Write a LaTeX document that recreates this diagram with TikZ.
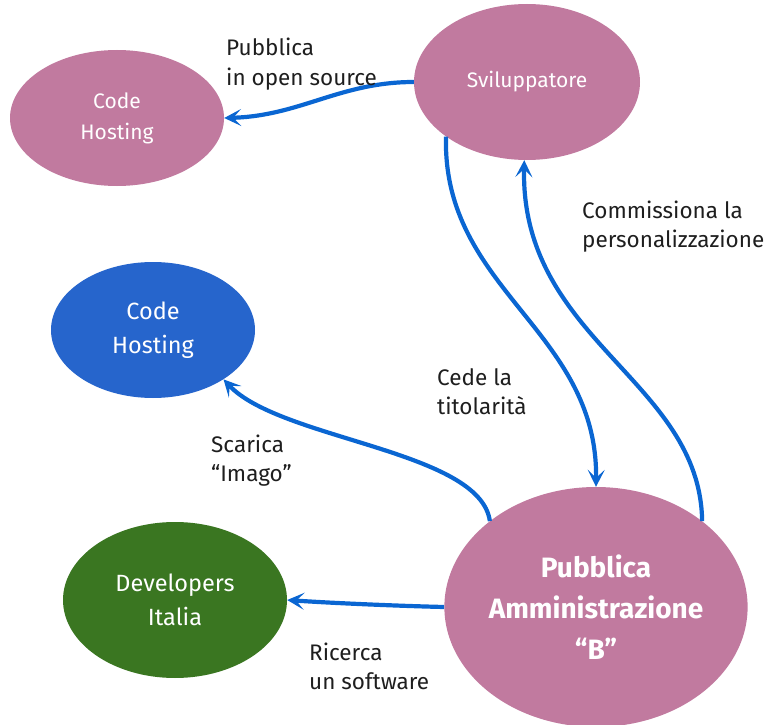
\documentclass[tikz,border=0pt]{standalone}
\usepackage{fontspec}
\setmainfont{Fira Sans}
\usetikzlibrary{shapes.geometric,arrows.meta}
\definecolor{pinkn}{RGB}{193,122,159}
\definecolor{bluen}{RGB}{38,101,204}
\definecolor{greenn}{RGB}{58,118,33}
\definecolor{arrowc}{RGB}{10,102,210}
\definecolor{txt}{RGB}{30,30,30}
\tikzset{
  blob/.style={ellipse, inner sep=0pt, text=white, align=center},
  smallfont/.style={font=\fontsize{21}{31}\selectfont},
  midfont/.style={font=\fontsize{23.5}{34}\selectfont},
  bigfont/.style={font=\fontsize{28}{41}\selectfont\bfseries},
  flow/.style={draw=arrowc, line width=4.2pt, -{Stealth[length=17pt,width=17pt,inset=8pt]}},
  lbl/.style={anchor=base west, inner sep=0pt, text=txt, font=\fontsize{22.5}{29.5}\selectfont}
}
\begin{document}
\begin{tikzpicture}[x=1pt,y=-1pt]
\useasboundingbox (0,0) rectangle (772,725);
\node[blob, smallfont, fill=pinkn, minimum width=214pt, minimum height=136pt] (ch1) at (117,118) {Code\\Hosting};
\node[blob, smallfont, fill=pinkn, minimum width=226pt, minimum height=156pt] (sv) at (527,82) {Sviluppatore};
\node[blob, midfont, fill=bluen, minimum width=204pt, minimum height=136pt] (ch2) at (153,330) {Code\\Hosting};
\node[blob, midfont, fill=greenn, minimum width=224pt, minimum height=156pt] (dev) at (175,600) {Developers\\Italia};
\node[blob, bigfont, fill=pinkn, minimum width=300pt, minimum height=240pt] (pa) at (596,607) {Pubblica\\Amministrazione\\“B”};

\draw[flow] (sv.west) .. controls (340,82) and (300,116) .. (ch1.east);
\draw[flow] (sv.214) .. controls (442,290) and (598,330) .. (pa.north);
\draw[flow] (pa.39) .. controls (700,380) and (520,340) .. (sv.268);
\draw[flow] (pa.141) .. controls (480,450) and (280,440) .. (ch2.-35);
\draw[flow] (pa.west) .. controls (400,606) and (330,603) .. (dev.east);

\node[lbl] (l1) at (226,56) {\begin{tabular}[t]{@{}l@{}}Pubblica\\in open source\end{tabular}};
\node[lbl] (l2) at (582,218) {\begin{tabular}[t]{@{}l@{}}Commissiona la\\personalizzazione\end{tabular}};
\node[lbl] (l3) at (437,385) {\begin{tabular}[t]{@{}l@{}}Cede la\\titolarità\end{tabular}};
\node[lbl] (l4) at (211,452) {\begin{tabular}[t]{@{}l@{}}Scarica\\“Imago”\end{tabular}};
\node[lbl] (l5) at (309,660) {\begin{tabular}[t]{@{}l@{}}Ricerca\\un software\end{tabular}};
\end{tikzpicture}
\end{document}
